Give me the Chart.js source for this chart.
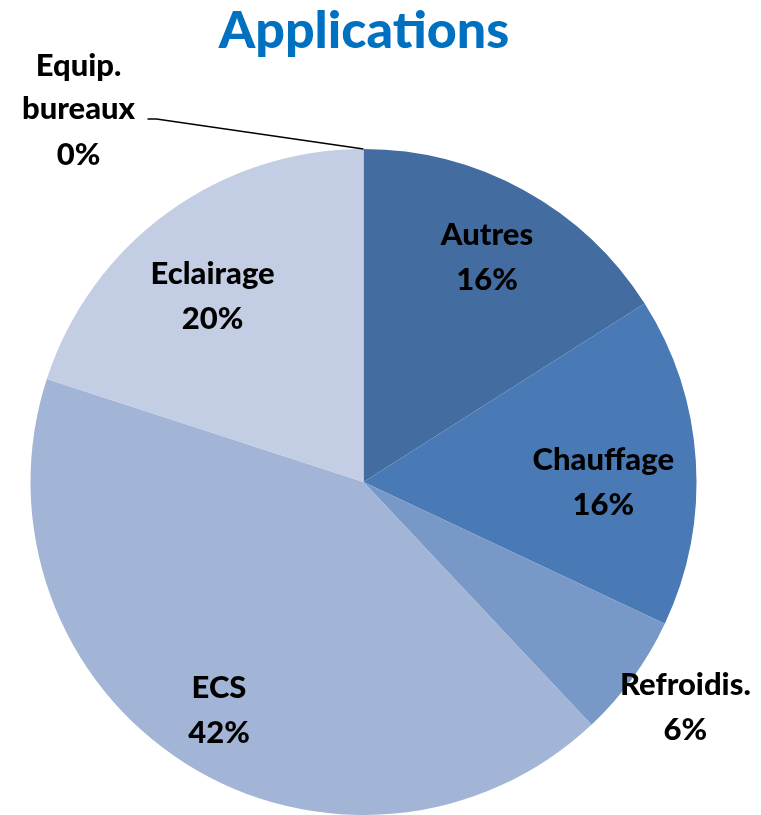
<!DOCTYPE html>
<html>
<head>
<meta charset="utf-8">
<script src="https://cdn.jsdelivr.net/npm/chart.js@4.4.0/dist/chart.umd.min.js"></script>
<style>
  html, body { margin: 0; padding: 0; background: #fff; }
  #wrap { width: 761px; height: 815px; position: relative; }
</style>
</head>
<body>
<div id="wrap"><canvas id="pie" width="761" height="815"></canvas></div>
<script>
// data
const labels = ["Autres", "Chauffage", "Refroidis.", "ECS", "Eclairage", "Equip. bureaux"];
const values = [16, 16, 6, 42, 20, 0];
const colors = ["#436ca0", "#4a7ab6", "#7898c8", "#a3b5d6", "#c3cde3", "#5a7fb0"];
// label placement: fraction of radius, and angle shift in degrees
const labelRadius = [0.77, 0.72, 1.18, 0.81, 0.72, 0];
const labelShift = [0, 3.6, -1, 0, -3, 0];

const FONT = "Lato, 'Open Sans', sans-serif";

const labelPlugin = {
  id: "sliceLabels",
  afterDraw(chart) {
    const ctx = chart.ctx;
    const meta = chart.getDatasetMeta(0);
    ctx.save();
    ctx.textAlign = "center";
    ctx.textBaseline = "middle";
    ctx.fillStyle = "#000";
    ctx.font = "900 31px " + FONT;

    meta.data.forEach((arc, i) => {
      const v = values[i];
      if (v === 0) {
        // zero slice: leader line out to the label on the upper left
        const a = arc.startAngle;
        const ex = arc.x + Math.cos(a) * arc.outerRadius;
        const ey = arc.y + Math.sin(a) * arc.outerRadius;
        ctx.strokeStyle = "#000";
        ctx.lineWidth = 1.5;
        ctx.beginPath();
        ctx.moveTo(ex, ey);
        ctx.lineTo(ex - 207, ey - 30);
        ctx.lineTo(ex - 216, ey - 30);
        ctx.stroke();
        const tx = ex - 285;
        ctx.fillText("Equip.", tx, ey - 83);
        ctx.fillText("bureaux", tx, ey - 40);
        ctx.fillText(v + "%", tx, ey + 6);
        return;
      }
      const mid = (arc.startAngle + arc.endAngle) / 2 + labelShift[i] * Math.PI / 180;
      const r = arc.outerRadius * labelRadius[i];
      const x = arc.x + Math.cos(mid) * r;
      const y = arc.y + Math.sin(mid) * r;
      ctx.fillText(labels[i], x, y - 22);
      ctx.fillText(v + "%", x, y + 23);
    });

    // title
    ctx.fillStyle = "#0070c0";
    ctx.font = "900 52px " + FONT;
    ctx.fillText("Applications", 364, 31);
    ctx.restore();
  }
};

new Chart(document.getElementById("pie").getContext("2d"), {
  type: "pie",
  data: {
    labels: labels,
    datasets: [{
      data: values,
      backgroundColor: colors,
      borderWidth: 0
    }]
  },
  options: {
    responsive: false,
    animation: false,
    layout: { padding: { top: 149, bottom: 0, left: 30, right: 64 } },
    plugins: {
      legend: { display: false },
      tooltip: { enabled: false }
    }
  },
  plugins: [labelPlugin]
});
</script>
</body>
</html>
